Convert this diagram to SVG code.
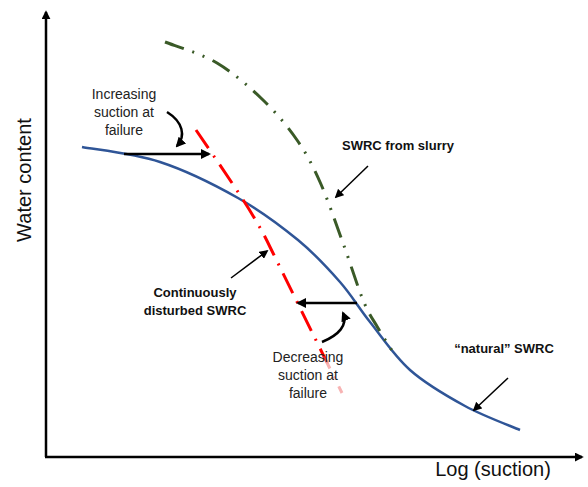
<svg xmlns="http://www.w3.org/2000/svg" width="588" height="487" viewBox="0 0 588 487">
<style>
.lbl{font-family:"Liberation Sans",Arial,sans-serif;font-size:14px;fill:#222;text-anchor:middle}
.bold{font-family:"Liberation Sans",Arial,sans-serif;font-size:13px;font-weight:bold;fill:#111;text-anchor:middle}
.axl{font-family:"Liberation Sans",Arial,sans-serif;font-size:20px;fill:#111;text-anchor:middle}
.axis{stroke:#000;stroke-width:2.5;fill:none}
.thick{stroke:#000;stroke-width:2.5;fill:none}
.thin{stroke:#000;stroke-width:1.5;fill:none}
</style>
<defs>
<marker id="axh" viewBox="0 0 10 10" refX="8" refY="5" markerWidth="3.6" markerHeight="3.6" orient="auto"><path d="M0,0 L10,5 L0,10 z" fill="#000"/></marker>
<marker id="bh" viewBox="0 0 10 10" refX="8" refY="5" markerWidth="4" markerHeight="4" orient="auto"><path d="M0,0 L10,5 L0,10 z" fill="#000"/></marker>
<marker id="th" viewBox="0 0 10 10" refX="8" refY="5" markerWidth="6" markerHeight="6" orient="auto"><path d="M0,0 L10,5 L0,10 z" fill="#000"/></marker>
<linearGradient id="redfade" gradientUnits="userSpaceOnUse" x1="0" y1="356" x2="0" y2="364">
<stop offset="0" stop-color="#FF0000"/><stop offset="1" stop-color="#F7B3B3"/>
</linearGradient>
</defs>

<g id="axes">
<line class="axis" x1="46" y1="457" x2="46" y2="12" marker-end="url(#axh)"/>
<line class="axis" x1="45" y1="457" x2="582" y2="457" marker-end="url(#axh)"/>
<text class="axl" transform="translate(31,180) rotate(-90)">Water content</text>
<text class="axl" x="493" y="476">Log (suction)</text>
</g>

<g id="natural-swrc">
<path d="M82,147 C95,149.5 134,153.5 160,162 C186,170.5 215,185 238,198 C261,211 281,226 298,240 C315,254 328,268.3 340,282 C352,295.7 358.3,307.3 370,322 C381.7,336.7 394.2,356 410,370 C425.8,384 446.7,396 465,406 C483.3,416 510.8,426 520,430" fill="none" stroke="#2F5597" stroke-width="2.5"/>
</g>

<g id="slurry-swrc">
<path d="M165,42 C173.7,45.5 200.7,53.3 217,63 C233.3,72.7 249.7,87.2 263,100 C276.3,112.8 287.5,126.3 297,140 C306.5,153.7 312.3,164.8 320,182 C327.7,199.2 335.8,223.3 343,243 C350.2,262.7 357.2,285.8 363,300 C368.8,314.2 372.5,318.5 378,328 C383.5,337.5 393,352.2 396,357" fill="none" stroke="#3A5A27" stroke-width="3" stroke-dasharray="20 9 2 9 2 9"/>
</g>

<g id="disturbed-swrc">
<path d="M196,130 C230,180 255,215 270,247 L342,393" fill="none" stroke="url(#redfade)" stroke-width="3" stroke-dasharray="22 9 2 9"/>
</g>

<g id="connectors">
<line class="thick" x1="124" y1="154" x2="209" y2="154" marker-end="url(#bh)"/>
<line class="thick" x1="357" y1="303" x2="298" y2="303" marker-end="url(#bh)"/>
<path class="thick" d="M167,112 C183,122 186,136 177,146" marker-end="url(#bh)"/>
<path class="thick" d="M322,342 C339,335 348,325 343,313" marker-end="url(#bh)"/>
<line class="thin" x1="368" y1="166" x2="336" y2="197" marker-end="url(#th)"/>
<line class="thin" x1="231" y1="278" x2="267" y2="251" marker-end="url(#th)"/>
<line class="thin" x1="508" y1="378" x2="474" y2="410" marker-end="url(#th)"/>
</g>

<g id="label-increasing">
<text class="lbl" x="124" y="99">Increasing</text>
<text class="lbl" x="124" y="117">suction at</text>
<text class="lbl" x="124" y="135">failure</text>
</g>
<g id="label-slurry">
<text class="bold" x="398" y="150">SWRC from slurry</text>
</g>
<g id="label-disturbed">
<text class="bold" x="195" y="297">Continuously</text>
<text class="bold" x="195" y="315">disturbed SWRC</text>
</g>
<g id="label-decreasing">
<text class="lbl" x="308" y="362">Decreasing</text>
<text class="lbl" x="308" y="380">suction at</text>
<text class="lbl" x="308" y="398">failure</text>
</g>
<g id="label-natural">
<text class="bold" x="504" y="353">“natural” SWRC</text>
</g>
</svg>
